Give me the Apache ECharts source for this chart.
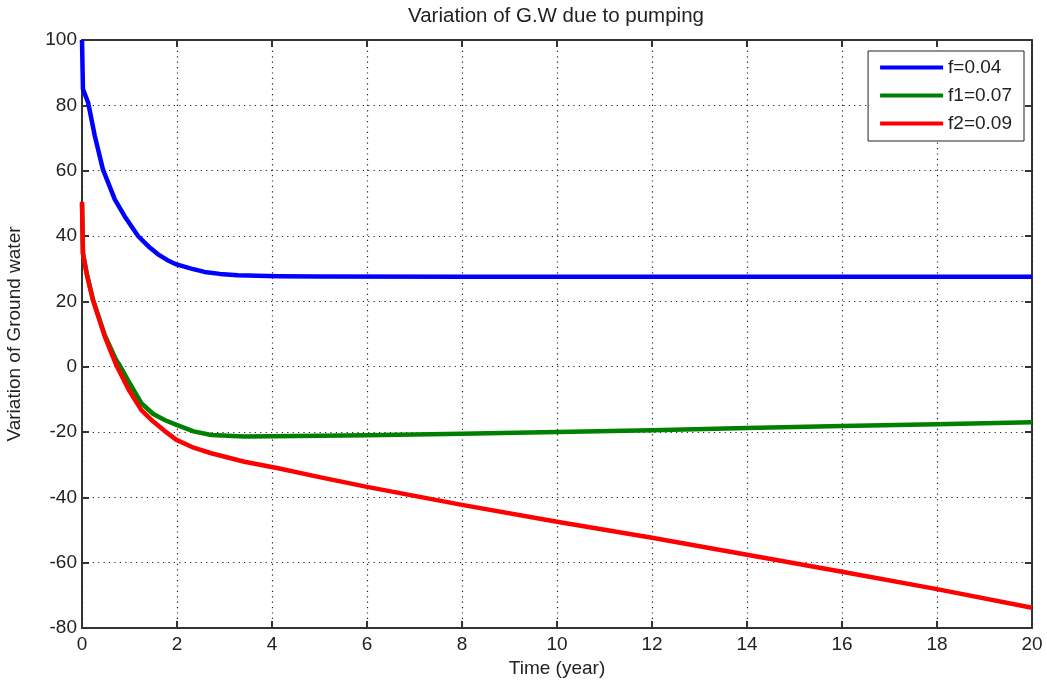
<!DOCTYPE html>
<html>
<head>
<meta charset="utf-8">
<script src="https://cdn.jsdelivr.net/npm/echarts@6/dist/echarts.min.js"></script>
<style>
  html, body { margin: 0; padding: 0; background: #fff; }
  #chart { width: 1047px; height: 688px; }
</style>
</head>
<body>
<div id="chart"></div>
<script>
// values: [time (year), ground water]
const blueF = [
  [0, 100], [0.02, 85], [0.13, 80.8], [0.27, 70.6], [0.44, 60.4], [0.69, 51.2],
  [0.9, 46], [1.18, 40], [1.4, 36.8], [1.6, 34.4], [1.8, 32.6], [1.99, 31.3],
  [2.3, 30], [2.58, 29], [2.9, 28.4], [3.28, 28], [3.7, 27.8], [4.13, 27.7],
  [5, 27.6], [8, 27.5], [12, 27.5], [16, 27.5], [20, 27.5]
]
const greenF1 = [
  [0, 50], [0.02, 34.7], [0.1, 28.5], [0.23, 20.6], [0.48, 9.6], [0.72, 2],
  [0.79, 0.5], [1, -5], [1.25, -11.2], [1.5, -14.5], [1.75, -16.4], [1.99, -17.8],
  [2.35, -19.8], [2.72, -20.9], [3.42, -21.4], [4, -21.3], [6, -21], [8, -20.5],
  [10, -20], [12, -19.5], [14, -18.8], [16, -18.2], [18, -17.6], [20, -17]
]
const redF2 = [
  [0, 50.5], [0.02, 34.7], [0.1, 28.3], [0.23, 20.4], [0.48, 9.2], [0.72, 0.5],
  [1, -7.5], [1.25, -13.3], [1.5, -16.8], [1.75, -19.8], [1.99, -22.4],
  [2.35, -24.8], [2.72, -26.5], [3.42, -29.1], [4.13, -31.1], [5, -33.8],
  [6, -36.8], [8, -42.3], [10, -47.5], [12, -52.4], [14, -57.6], [16, -62.8],
  [18, -68.1], [20, -73.8]
]
const seriesNames = ['f=0.04', 'f1=0.07', 'f2=0.09']
const seriesColors = ['#0000ff', '#008000', '#ff0000']

const chart = echarts.init(document.getElementById('chart'))

const fontFamily = 'Liberation Sans, Arial, sans-serif'
const tickFont = { fontFamily: fontFamily, fontSize: 19, color: '#222' }
const dotted = { show: true, lineStyle: { color: '#222', type: [1.2, 4.2], width: 1.2 } }
const axisLine = { show: true, onZero: false, lineStyle: { color: '#333', width: 2 } }
const innerTick = { show: true, inside: true, length: 7, lineStyle: { color: '#333', width: 2 } }

const makeSeries = (name, data, color) => ({
  name: name,
  type: 'line',
  data: data,
  showSymbol: false,
  symbol: 'none',
  lineStyle: { color: color, width: 4.5, join: 'round' },
  itemStyle: { color: color },
  z: 3
})

chart.setOption({
  animation: false,
  title: {
    text: 'Variation of G.W due to pumping',
    left: 551,
    textAlign: 'center',
    top: 1,
    textStyle: { fontFamily: fontFamily, fontSize: 20.5, fontWeight: 'normal', color: '#222' }
  },
  legend: {
    data: seriesNames,
    orient: 'vertical',
    right: 23,
    top: 51,
    padding: [7, 12, 8, 12],
    itemGap: 9,
    itemWidth: 63,
    itemHeight: 4,
    icon: 'rect',
    backgroundColor: '#fff',
    borderColor: '#222',
    borderWidth: 1,
    borderRadius: 0,
    textStyle: tickFont
  },
  grid: { left: 82, right: 15, top: 40, bottom: 60, containLabel: false, outerBoundsMode: 'none' },
  xAxis: [
    {
      type: 'value',
      min: 0, max: 20, interval: 2,
      name: 'Time (year)',
      nameLocation: 'middle',
      nameGap: 30,
      nameTextStyle: tickFont,
      axisLine: axisLine,
      axisTick: innerTick,
      axisLabel: Object.assign({ margin: 7 }, tickFont),
      splitLine: dotted
    },
    {
      type: 'value', position: 'top',
      min: 0, max: 20, interval: 2,
      axisLine: axisLine,
      axisTick: innerTick,
      axisLabel: { show: false },
      splitLine: { show: false }
    }
  ],
  yAxis: [
    {
      type: 'value',
      min: -80, max: 100, interval: 20,
      name: 'Variation of Ground water',
      nameLocation: 'middle',
      nameGap: 58,
      nameTextStyle: tickFont,
      axisLine: axisLine,
      axisTick: innerTick,
      axisLabel: Object.assign({ margin: 5 }, tickFont),
      splitLine: dotted
    },
    {
      type: 'value', position: 'right',
      min: -80, max: 100, interval: 20,
      axisLine: axisLine,
      axisTick: innerTick,
      axisLabel: { show: false },
      splitLine: { show: false }
    }
  ],
  series: [
    makeSeries(seriesNames[0], blueF, seriesColors[0]),
    makeSeries(seriesNames[1], greenF1, seriesColors[1]),
    makeSeries(seriesNames[2], redF2, seriesColors[2])
  ]
})
</script>
</body>
</html>
